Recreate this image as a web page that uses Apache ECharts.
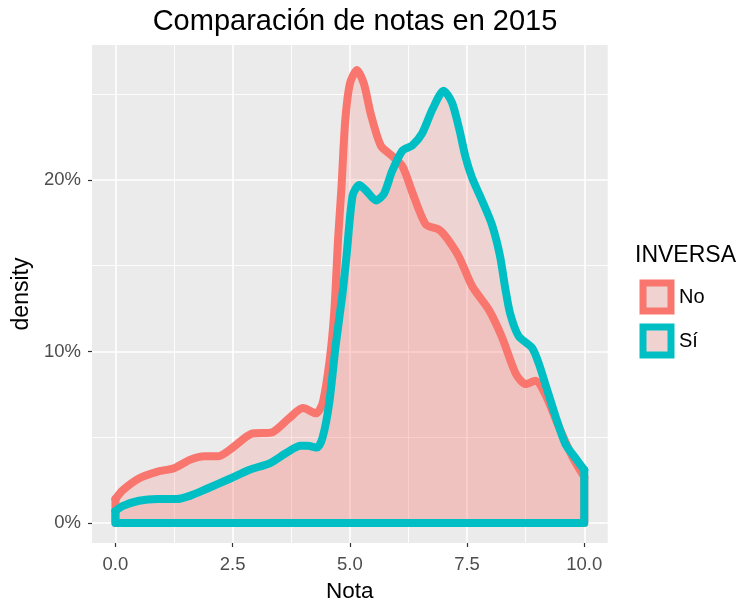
<!DOCTYPE html>
<html>
<head>
<meta charset="utf-8">
<script src="https://cdn.jsdelivr.net/npm/echarts@6/dist/echarts.min.js"></script>
<style>
  html, body { margin: 0; padding: 0; background: #fff; }
  #chart { width: 738px; height: 608px; }
</style>
</head>
<body>
<div id="chart"></div>
<script>
// densidad estimada (en %) para cada grupo de INVERSA
var notaNo = [0, 0.15, 0.5, 0.9, 1.25, 1.6, 1.9, 2.2, 2.5, 2.9, 3.35, 3.7, 4.0, 4.28, 4.42, 4.57, 4.67, 4.75, 4.82, 4.9, 5.0, 5.15, 5.3, 5.45, 5.66, 5.9, 6.12, 6.33, 6.62, 6.9, 7.07, 7.33, 7.61, 7.97, 8.25, 8.54, 8.75, 8.96, 9.17, 9.46, 9.74, 9.95, 10]
var densNo = [1.4, 1.9, 2.6, 3.0, 3.2, 3.7, 3.9, 3.9, 4.4, 5.2, 5.3, 6.1, 6.7, 6.4, 7.0, 9.5, 12.4, 16.6, 19.5, 23.4, 25.6, 26.4, 25.6, 23.8, 22.0, 21.4, 20.8, 19.3, 17.4, 17.1, 16.6, 15.5, 13.8, 12.4, 10.8, 8.7, 8.1, 8.3, 7.5, 5.6, 3.9, 2.9, 2.7]

var notaSi = [0, 0.16, 0.5, 0.9, 1.3, 1.6, 1.95, 2.45, 2.85, 3.3, 3.65, 3.95, 4.1, 4.3, 4.42, 4.56, 4.7, 4.84, 4.93, 5.06, 5.2, 5.34, 5.56, 5.73, 5.9, 6.12, 6.33, 6.54, 6.76, 7.0, 7.18, 7.33, 7.47, 7.61, 7.82, 8.03, 8.2, 8.32, 8.42, 8.6, 8.89, 9.03, 9.17, 9.39, 9.6, 9.81, 9.97, 10]
var densSi = [0.7, 1.0, 1.3, 1.4, 1.4, 1.6, 2.0, 2.6, 3.1, 3.5, 4.1, 4.5, 4.5, 4.4, 5.0, 7.0, 10.4, 13.3, 15.6, 19.1, 19.7, 19.4, 18.8, 19.2, 20.5, 21.7, 22.0, 22.7, 24.1, 25.2, 24.5, 23.0, 21.3, 20.1, 18.8, 17.4, 15.6, 13.6, 12.2, 10.9, 10.2, 9.3, 8.1, 6.2, 4.6, 3.8, 3.2, 3.1]

var grupos = ["No", "Sí"]
var colores = ["#F8766D", "#00BFC4"]

var xTicks = [0, 2.5, 5, 7.5, 10]
var xMinor = [1.25, 3.75, 6.25, 8.75]
var yTicks = [0, 10, 20]
var yMinor = [5, 15, 25]

var fuente = "Liberation Sans, Arial, sans-serif"
var relleno = "rgba(248,118,109,0.27)"

function curva(xs, ys) {
  return xs.map(function (x, i) { return [x, ys[i]] })
}
// lados y base del contorno de geom_density
function bordes(xs, ys) {
  var n = xs.length - 1
  return [[xs[0], ys[0]], [xs[0], 0], [xs[n], 0], [xs[n], ys[n]]]
}

var chart = echarts.init(document.getElementById("chart"))

function serieCurva(nombre, color, datos) {
  return {
    name: nombre,
    type: "line",
    data: datos,
    symbol: "none",
    smooth: 0.25,
    silent: true,
    lineStyle: { color: color, width: 8, join: "round", cap: "round" },
    itemStyle: { color: color },
    areaStyle: { color: relleno, origin: 0 }
  }
}
function serieBorde(nombre, color, datos) {
  return {
    name: nombre,
    type: "line",
    data: datos,
    symbol: "none",
    smooth: false,
    silent: true,
    lineStyle: { color: color, width: 8, join: "round", cap: "round" },
    itemStyle: { color: color }
  }
}

var option = {
  animation: false,
  title: [
    {
      text: "Comparación de notas en 2015",
      left: 350,
      top: 2,
      textAlign: "center",
      textStyle: { fontFamily: fuente, fontSize: 29, fontWeight: "normal", color: "#000" }
    },
    {
      text: "INVERSA",
      left: 635,
      top: 244,
      padding: 0,
      textStyle: { fontFamily: fuente, fontSize: 23, fontWeight: "normal", color: "#000" }
    }
  ],
  legend: {
    orient: "vertical",
    left: 639.5,
    top: 279.5,
    padding: 0,
    itemWidth: 28,
    itemHeight: 28,
    itemGap: 9,
    textStyle: { fontFamily: fuente, fontSize: 20, color: "#000", padding: [0, 0, 0, 3] },
    data: grupos.map(function (g, i) {
      return {
        name: g,
        icon: "rect",
        itemStyle: { color: "#F0D2D1", borderColor: colores[i], borderWidth: 7 }
      }
    })
  },
  grid: {
    left: 92,
    right: 130.3,
    top: 45,
    bottom: 60.5,
    show: true,
    backgroundColor: "#EBEBEB",
    borderWidth: 0
  },
  xAxis: [
    {
      type: "value",
      position: "bottom",
      min: -0.5,
      max: 10.5,
      name: "Nota",
      nameLocation: "middle",
      nameGap: 37,
      nameTextStyle: { fontFamily: fuente, fontSize: 22.5, color: "#000" },
      axisLine: { show: false, onZero: false },
      axisTick: { show: true, length: 4, customValues: xTicks, lineStyle: { color: "#333", width: 1.2 } },
      axisLabel: {
        customValues: xTicks,
        margin: 12,
        fontFamily: fuente,
        fontSize: 18.5,
        color: "#4D4D4D",
        formatter: function (v) { return v.toFixed(1) }
      },
      splitLine: { show: true, customValues: xTicks, lineStyle: { color: "#fff", width: 1.6 } }
    },
    {
      type: "value",
      position: "top",
      min: -0.5,
      max: 10.5,
      axisLine: { show: false, onZero: false },
      axisTick: { show: false, customValues: xMinor },
      axisLabel: { show: false, customValues: xMinor },
      splitLine: { show: true, customValues: xMinor, lineStyle: { color: "#fff", width: 0.9 } }
    }
  ],
  yAxis: [
    {
      type: "value",
      position: "left",
      min: -1.16,
      max: 27.86,
      name: "density",
      nameLocation: "middle",
      nameGap: 58,
      nameTextStyle: { fontFamily: fuente, fontSize: 23, color: "#000" },
      axisLine: { show: false, onZero: false },
      axisTick: { show: true, length: 4, customValues: yTicks, lineStyle: { color: "#333", width: 1.2 } },
      axisLabel: {
        customValues: yTicks,
        margin: 11,
        fontFamily: fuente,
        fontSize: 18.5,
        color: "#4D4D4D",
        formatter: function (v) { return v + "%" }
      },
      splitLine: { show: true, customValues: yTicks, lineStyle: { color: "#fff", width: 1.6 } }
    },
    {
      type: "value",
      position: "right",
      min: -1.16,
      max: 27.86,
      axisLine: { show: false, onZero: false },
      axisTick: { show: false, customValues: yMinor },
      axisLabel: { show: false, customValues: yMinor },
      splitLine: { show: true, customValues: yMinor, lineStyle: { color: "#fff", width: 0.9 } }
    }
  ],
  series: [
    serieCurva(grupos[0], colores[0], curva(notaNo, densNo)),
    serieBorde(grupos[0], colores[0], bordes(notaNo, densNo)),
    serieCurva(grupos[1], colores[1], curva(notaSi, densSi)),
    serieBorde(grupos[1], colores[1], bordes(notaSi, densSi))
  ]
}

chart.setOption(option)
</script>
</body>
</html>
